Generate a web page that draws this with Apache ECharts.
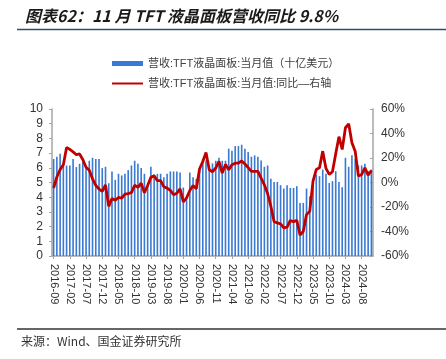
<!DOCTYPE html>
<html>
<head>
<meta charset="utf-8">
<script src="https://cdn.jsdelivr.net/npm/echarts@6/dist/echarts.min.js"></script>
<style>
html,body{margin:0;padding:0;background:#fff;}
#c{width:446px;height:359px;}
</style>
</head>
<body>
<div id="c"></div>
<script>
// Months 2016-09 .. 2024-11
const startYear = 2016, startMonth = 9, monthCount = 99;
const categories = [];
for (let k = 0; k < monthCount; k++) {
  const m = startMonth - 1 + k;
  const y = startYear + Math.floor(m / 12);
  const mm = (m % 12) + 1;
  categories.push(y + '-' + (mm < 10 ? '0' + mm : '' + mm));
}

// 营收:TFT液晶面板:当月值（十亿美元）
const revenue = [
  6.6, 6.75, 6.95, 6.2, 6.15, 6.15, 6.6, 6.05, 6.27, 6.5,
  6.05, 6.48, 6.68, 6.6, 6.6, 5.98, 6.07, 4.95, 5.75, 5.18,
  5.59, 5.48, 5.59, 5.84, 6.16, 6.48, 6.27, 5.98, 5.59, 4.7,
  6.07, 5.55, 5.59, 5.59, 5.36, 5.59, 5.75, 5.75, 5.75, 5.68,
  4.66, 3.95, 5.68, 5.36, 5.25, 5.9, 6.43, 6.5, 6.0, 6.3,
  6.48, 6.68, 6.48, 6.48, 7.3, 7.16, 7.48, 7.48, 7.57, 7.3,
  7.07, 6.75, 6.84, 6.75, 6.5, 6.07, 6.16, 5.25, 5.04, 5.04,
  4.82, 4.59, 4.82, 4.63, 4.63, 4.75, 3.61, 3.61, 4.59, 4.06,
  5.08, 5.54, 5.43, 5.88, 5.59, 4.97, 5.09, 5.77, 5.04, 4.68,
  6.68, 6.07, 6.86, 6.6, 6.16, 6.16, 6.27, 5.77, 5.88
];

// 营收:TFT液晶面板:当月值:同比 (%)
const yoy = [
  -4.5, 4.5, 10.5, 14.5, 28.6, 27, 25, 22.7, 23.3, 18.8,
  12.4, 10, 3, -2.3, -5.3, -7.3, -2, -19.5, -13, -14.5,
  -12.2, -12.8, -9.5, -9, -8.3, -2.2, -4, -0.5, -8.4, -2.5,
  4.2, 5.4, 1.5, 1.5, -3.5, -4.6, -6.5, -10, -8.7, -5.2,
  -15.8, -12.5, -6.5, -2.5, -5.2, 11, 17.2, 24.5, 10.4, 8.8,
  11.8, 17.2, 7.7, 14.8, 10.4, 14.5, 15.8, 15.8, 17.6, 15.1,
  12.2, 9.1, 9.1, 9.1, 3.5, -2, -9, -19.5, -32, -33,
  -33.7, -37.1, -36.5, -31, -32, -30.8, -43, -39.8, -26.2, -23.4,
  1.1, 10.6, 12, 25.6, 11.5, 6.6, 8.8, 23.5, 37.4, 27,
  44.7, 47.9, 32.5, 25.6, 5.2, 6.6, 12, 6, 9.8
];

const seriesNames = ['营收:TFT液晶面板:当月值（十亿美元）', '营收:TFT液晶面板:当月值:同比—右轴'];
const titleText = '图表62：11 月 TFT 液晶面板营收同比 9.8%';
const sourceText = '来源：Wind、国金证券研究所';

const baseFont = 'Liberation Sans, Arial, Noto Sans CJK SC, sans-serif';
const chart = echarts.init(document.getElementById('c'), null, {renderer: 'canvas'});
chart.setOption({
  animation: false,
  backgroundColor: '#fff',
  textStyle: {fontFamily: baseFont},
  title: {
    text: titleText,
    left: 20, top: 3,
    textStyle: {fontFamily: 'Noto Sans CJK SC, sans-serif', fontStyle: 'italic', fontWeight: 'bold', fontSize: 16, color: '#1a1a1a'}
  },
  graphic: [
    {type: 'line', shape: {x1: 17, y1: 29.5, x2: 446, y2: 29.5}, style: {stroke: '#2f4b6e', lineWidth: 1.5}},
    {type: 'line', shape: {x1: 17, y1: 329, x2: 446, y2: 329}, style: {stroke: '#333', lineWidth: 1.5}},
    {type: 'text', left: 21, top: 335, style: {text: sourceText, fontSize: 12, fill: '#333', fontFamily: 'Noto Sans CJK SC, sans-serif'}}
  ],
  legend: {
    orient: 'vertical',
    left: 106, top: 53,
    itemWidth: 31, itemHeight: 5,
    itemGap: 9,
    textStyle: {fontSize: 11, color: '#404040', fontFamily: baseFont},
    data: [
      {name: seriesNames[0], icon: 'rect'},
      {name: seriesNames[1], itemStyle: {opacity: 0}}
    ]
  },
  grid: {left: 52, right: 73, top: 109, height: 147, containLabel: false},
  xAxis: {
    type: 'category',
    data: categories,
    boundaryGap: true,
    axisLine: {lineStyle: {color: '#a6a6a6', width: 1.5}},
    axisTick: {show: true, interval: 4, alignWithLabel: true, length: 3, lineStyle: {color: '#a6a6a6'}},
    axisLabel: {interval: 4, rotate: -90, fontSize: 11, color: '#333', margin: 8}
  },
  yAxis: [
    {
      type: 'value', min: 0, max: 10, interval: 1,
      splitLine: {show: false},
      axisLine: {show: true, lineStyle: {color: '#a6a6a6', width: 1.5}},
      axisTick: {show: true, length: 3, lineStyle: {color: '#a6a6a6'}},
      axisLabel: {fontSize: 12, color: '#333', margin: 9}
    },
    {
      type: 'value', min: -60, max: 60, interval: 20,
      splitLine: {show: false},
      axisLine: {show: true, lineStyle: {color: '#a6a6a6', width: 1.5}},
      axisTick: {show: true, inside: true, length: 3, lineStyle: {color: '#a6a6a6'}},
      axisLabel: {fontSize: 12, color: '#333', margin: 8, formatter: '{value}%'}
    }
  ],
  series: [
    {
      name: seriesNames[0], type: 'bar', data: revenue, yAxisIndex: 0,
      barWidth: '50%',
      itemStyle: {color: '#3a7ad2'}
    },
    {
      name: seriesNames[1], type: 'line', data: yoy, yAxisIndex: 1,
      symbol: 'none', smooth: false,
      lineStyle: {color: '#c00000', width: 2.8},
      itemStyle: {color: '#c00000'},
      z: 5
    }
  ]
});
</script>
</body>
</html>
